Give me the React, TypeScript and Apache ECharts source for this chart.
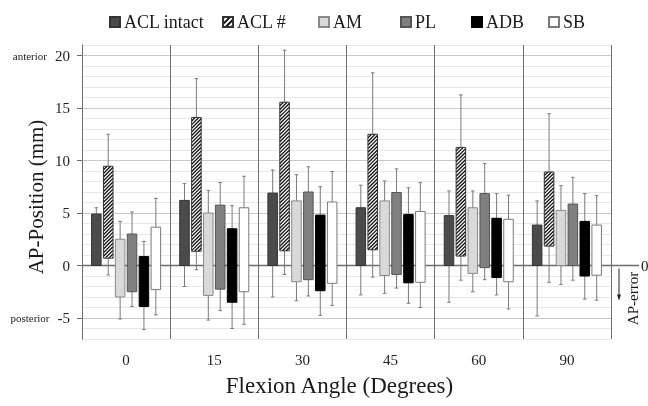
import React, { useEffect, useRef } from "react";
import * as echarts from "echarts";

const angles = ["0", "15", "30", "45", "60", "90"];
const groupNames = ["ACL intact", "ACL #", "AM", "PL", "ADB", "SB"];

// floating bar ranges (lo -> hi) and error bar ends
const aclIntactHi = [4.9, 6.2, 6.9, 5.5, 4.75, 3.85];
const aclIntactLo = [0, 0, 0, 0, 0, 0];
const aclIntactErrHi = [5.5, 7.8, 9.1, 7.65, 7.1, 6.15];
const aclIntactErrLo = [0, -2.0, -3.0, -2.8, -3.5, -4.8];

const aclCutHi = [9.45, 14.1, 15.55, 12.5, 11.25, 8.9];
const aclCutLo = [0.7, 1.35, 1.4, 1.5, 0.9, 1.85];
const aclCutErrHi = [12.5, 17.8, 20.5, 18.35, 16.25, 14.45];
const aclCutErrLo = [-0.9, -0.4, -0.85, -1.1, -1.4, -1.6];

const amHi = [2.5, 5.0, 6.15, 6.15, 5.5, 5.25];
const amLo = [-3.0, -2.85, -1.55, -0.95, -0.75, 0];
const amErrHi = [4.2, 7.15, 8.65, 8.05, 7.1, 7.6];
const amErrLo = [-5.1, -5.2, -3.35, -2.65, -2.5, -1.8];

const plHi = [3.0, 5.75, 7.0, 6.95, 6.85, 5.85];
const plLo = [-2.5, -2.25, -1.35, -0.85, -0.2, 0];
const plErrHi = [5.1, 7.9, 9.4, 9.2, 9.7, 8.4];
const plErrLo = [-3.9, -4.3, -2.9, -2.15, -1.35, -1.4];

const adbHi = [0.85, 3.5, 4.8, 4.85, 4.5, 4.2];
const adbLo = [-3.9, -3.5, -2.4, -1.65, -1.15, -1.0];
const adbErrHi = [2.3, 5.7, 7.5, 7.4, 6.85, 6.85];
const adbErrLo = [-6.1, -6.0, -4.75, -3.6, -2.8, -3.2];

const sbHi = [3.65, 5.5, 6.05, 5.15, 4.4, 3.85];
const sbLo = [-2.3, -2.5, -1.7, -1.6, -1.55, -0.92];
const sbErrHi = [6.4, 8.5, 8.95, 7.9, 6.7, 6.65];
const sbErrLo = [-4.7, -5.6, -3.8, -4.0, -4.15, -3.3];

const groups = [
  { lo: aclIntactLo, hi: aclIntactHi, eLo: aclIntactErrLo, eHi: aclIntactErrHi },
  { lo: aclCutLo, hi: aclCutHi, eLo: aclCutErrLo, eHi: aclCutErrHi },
  { lo: amLo, hi: amHi, eLo: amErrLo, eHi: amErrHi },
  { lo: plLo, hi: plHi, eLo: plErrLo, eHi: plErrHi },
  { lo: adbLo, hi: adbHi, eLo: adbErrLo, eHi: adbErrHi },
  { lo: sbLo, hi: sbHi, eLo: sbErrLo, eHi: sbErrHi },
];

const fills = ["#4b4b4b", "#ffffff", "#d9d9d9", "#808080", "#000000", "#ffffff"];
const strokes = ["#333333", "#333333", "#8a8a8a", "#555555", "#000000", "#7a7a7a"];
const legendLefts = [104, 217, 313, 395, 466, 543];

const FONT = "Liberation Serif";
const GRID = { left: 82, right: 37, top: 45, bottom: 67 };
const W = 648;
const H = 406;
const Y_MIN = -7;
const Y_MAX = 21;

export default function App() {
  const ref = useRef<HTMLDivElement>(null);

  useEffect(() => {
    if (!ref.current) return;
    const chart = echarts.init(ref.current, null, { renderer: "svg" });

    const plotH = H - GRID.top - GRID.bottom;
    const perUnit = plotH / (Y_MAX - Y_MIN);
    const grid2 = {
      left: GRID.left,
      right: GRID.right,
      top: GRID.top + (Y_MAX - 20) * perUnit,
      bottom: GRID.bottom + (-5 - Y_MIN) * perUnit,
    };

    const series: any[] = groups.map((g, k) => ({
      type: "custom",
      name: groupNames[k],
      xAxisIndex: 0,
      yAxisIndex: 0,
      z: 3,
      itemStyle:
        k === 1
          ? {
              color: "#ffffff",
              borderColor: strokes[k],
              borderWidth: 1,
              decal: {
                symbol: "rect",
                color: "#111",
                dashArrayX: [1, 0],
                dashArrayY: [1.5, 1.5],
                rotation: -Math.PI / 4,
              },
            }
          : { color: fills[k], borderColor: strokes[k], borderWidth: 1 },
      encode: { x: 0, y: [1, 2, 3, 4] },
      data: angles.map((_, i) => [i, g.lo[i], g.hi[i], g.eLo[i], g.eHi[i]]),
      renderItem: (params: any, api: any) => {
        const ci = api.value(0);
        const lo = api.value(1);
        const hi = api.value(2);
        const eLo = api.value(3);
        const eHi = api.value(4);
        const cx = api.coord([ci, 0])[0];
        const catW = api.size([1, 0])[0];
        const pitch = catW * 0.135;
        const bw = catW * 0.108;
        const xc = cx + (k - 2.5) * pitch;
        const yLo = api.coord([ci, lo])[1];
        const yHi = api.coord([ci, hi])[1];
        const yELo = api.coord([ci, eLo])[1];
        const yEHi = api.coord([ci, eHi])[1];
        const wStyle = { stroke: "#7a7a7a", lineWidth: 1 };
        const children: any[] = [];
        if (Math.abs(yEHi - yHi) > 0.5) {
          children.push({ type: "line", shape: { x1: xc, y1: yHi, x2: xc, y2: yEHi }, style: wStyle });
          children.push({ type: "line", shape: { x1: xc - 1.8, y1: yEHi, x2: xc + 1.8, y2: yEHi }, style: wStyle });
        }
        if (Math.abs(yELo - yLo) > 0.5) {
          children.push({ type: "line", shape: { x1: xc, y1: yLo, x2: xc, y2: yELo }, style: wStyle });
          children.push({ type: "line", shape: { x1: xc - 1.8, y1: yELo, x2: xc + 1.8, y2: yELo }, style: wStyle });
        }
        const x0 = xc - bw / 2;
        const x1 = xc + bw / 2;
        const y0 = Math.min(yHi, yLo);
        const y1 = Math.max(yHi, yLo);
        children.push({
          type: "rect",
          shape: { x: x0, y: y0, width: bw, height: y1 - y0 },
          style: { fill: fills[k], stroke: "none" },
        });
        if (k === 1) {
          const step = 3.6;
          for (let c = x0 + y0; c <= x1 + y1; c += step) {
            const xa = Math.max(x0, c - y1);
            const xb = Math.min(x1, c - y0);
            if (xb > xa) {
              children.push({
                type: "line",
                shape: { x1: xa, y1: c - xa, x2: xb, y2: c - xb },
                style: { stroke: "#111", lineWidth: 1.3 },
              });
            }
          }
        }
        children.push({
          type: "rect",
          shape: { x: x0, y: y0, width: bw, height: y1 - y0 },
          style: { fill: "none", stroke: strokes[k], lineWidth: 1 },
        });
        return { type: "group", children };
      },
    }));

    const legends = groupNames.map((n, k) => ({
      data: [{ name: n, icon: "rect" }],
      left: legendLefts[k],
      top: 8,
      itemWidth: 10,
      itemHeight: 10,
      itemGap: 4,
      selectedMode: false,
      textStyle: { fontFamily: FONT, fontSize: 18, color: "#1a1a1a", padding: [0, 0, 0, -1] },
    }));

    chart.setOption({
      animation: false,
      textStyle: { fontFamily: FONT },
      legend: legends,
      grid: [
        { ...GRID },
        { ...grid2 },
      ],
      xAxis: [
        {
          type: "category",
          gridIndex: 0,
          data: angles,
          boundaryGap: true,
          axisLine: { show: false },
          axisTick: { show: false },
          axisLabel: { interval: 0, fontFamily: FONT, fontSize: 15, color: "#222", margin: 13 },
          splitLine: { show: true, interval: 0, lineStyle: { color: "#6e6e6e", width: 1 } },
          name: "Flexion Angle (Degrees)",
          nameLocation: "middle",
          nameGap: 35,
          nameTextStyle: { fontFamily: FONT, fontSize: 23, color: "#1a1a1a", padding: [0, 14, 0, 0] },
        },
        {
          type: "category",
          gridIndex: 1,
          data: angles,
          show: false,
        },
      ],
      yAxis: [
        {
          type: "value",
          gridIndex: 0,
          min: Y_MIN,
          max: Y_MAX,
          interval: 1,
          axisLine: { show: true, lineStyle: { color: "#6e6e6e", width: 1 } },
          axisTick: { show: false },
          axisLabel: { show: false },
          splitLine: { show: true, lineStyle: { color: "#e8e8e8", width: 1 } },
          name: "AP-Position (mm)",
          nameLocation: "middle",
          nameGap: 36,
          nameTextStyle: { fontFamily: FONT, fontSize: 21, color: "#1a1a1a", padding: [0, 10, 0, 0] },
        },
        {
          type: "value",
          gridIndex: 1,
          min: -5,
          max: 20,
          interval: 5,
          axisLine: { show: false },
          axisTick: { show: true, length: 5, lineStyle: { color: "#6e6e6e" } },
          axisLabel: {
            fontFamily: FONT,
            fontSize: 15,
            color: "#222",
            margin: 12,
            formatter: (v: number) => {
              if (v === 20) return "{s|anterior}{n|20}";
              if (v === -5) return "{s|posterior}{n|-5}";
              return "{n|" + v + "}";
            },
            rich: {
              s: { fontFamily: FONT, fontSize: 11, color: "#222", padding: [0, 8, 0, 0] },
              n: { fontFamily: FONT, fontSize: 15, color: "#222" },
            },
          },
          splitLine: { show: true, lineStyle: { color: "#c9c9c9", width: 1 } },
        },
      ],
      series,
    });

    const y0 = chart.convertToPixel({ yAxisIndex: 0 }, 0) as number;
    const gridRight = W - GRID.right;
    chart.setOption({
      graphic: [
        {
          type: "line",
          z: 1,
          shape: { x1: GRID.left, y1: y0, x2: gridRight + 28, y2: y0 },
          style: { stroke: "#6e6e6e", lineWidth: 1.5 },
        },
        {
          type: "text",
          z: 5,
          x: gridRight + 30,
          y: y0,
          style: { text: "0", font: `15px "${FONT}"`, fill: "#1a1a1a", verticalAlign: "middle", align: "left" },
        },
        {
          type: "line",
          z: 5,
          shape: { x1: gridRight + 8, y1: y0 + 3, x2: gridRight + 8, y2: y0 + 33 },
          style: { stroke: "#222", lineWidth: 1 },
        },
        {
          type: "polygon",
          z: 5,
          shape: {
            points: [
              [gridRight + 6, y0 + 29],
              [gridRight + 10, y0 + 29],
              [gridRight + 8, y0 + 35],
            ],
          },
          style: { fill: "#222" },
        },
        {
          type: "text",
          z: 5,
          x: gridRight + 22,
          y: y0 + 33,
          rotation: Math.PI / 2,
          style: { text: "AP-error", font: `15px "${FONT}"`, fill: "#1a1a1a", align: "center", verticalAlign: "middle" },
        },
      ],
    });

    return () => chart.dispose();
  }, []);

  return (
    <div
      ref={ref}
      style={{ position: "fixed", left: 0, top: 0, width: W, height: H }}
    />
  );
}
